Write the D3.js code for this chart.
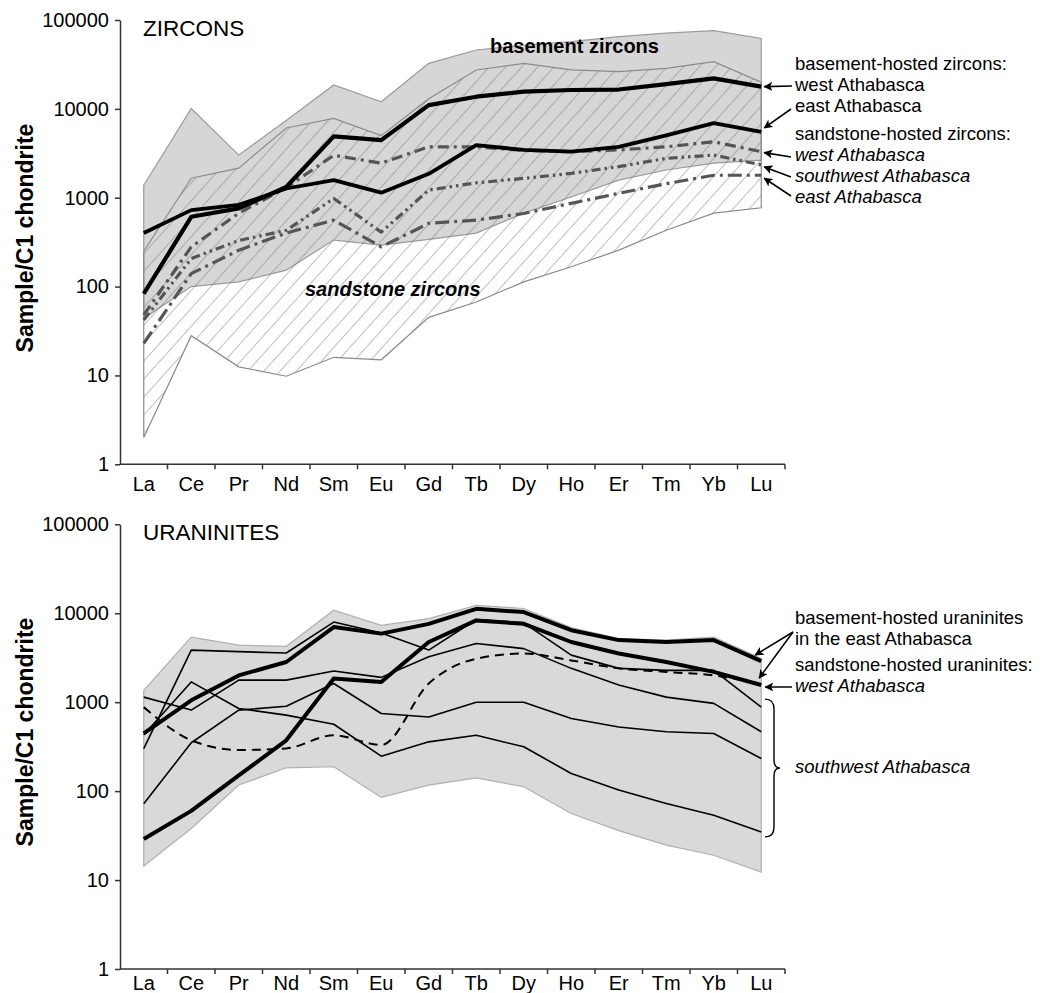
<!DOCTYPE html>
<html><head><meta charset="utf-8">
<script src="https://cdn.jsdelivr.net/npm/d3@7"></script>
<style>
body{margin:0;background:#fff}
text{font-family:"Liberation Sans",Arial,Helvetica,sans-serif;fill:#000}
</style>
</head><body>
<svg id="c" width="1059" height="993"></svg>
<script>
// ---------- categories / ticks ----------
const elements = ["La","Ce","Pr","Nd","Sm","Eu","Gd","Tb","Dy","Ho","Er","Tm","Yb","Lu"];
const yTickValues = [1,10,100,1000,10000,100000];

// ---------- ZIRCONS (top panel) ----------
const basementEnvUpper = [1380,10100,3020,7400,18600,12000,32500,46000,52000,57000,65000,71000,76000,62000];
const basementEnvLower = [44,100,113,153,334,293,340,400,670,1020,1580,2050,2450,2650];
const sandstoneEnvUpper = [250,1660,2150,6100,7800,5000,13000,27400,32500,27400,26300,28600,34000,20000];
const sandstoneEnvLower = [2,28,12.5,9.8,16,15,45,67,113,167,257,430,670,770];
const zrBasementWest = [83,610,760,1320,4900,4450,11000,13700,15600,16300,16500,19000,22000,17800];
const zrBasementEast = [400,725,830,1270,1580,1140,1860,3900,3460,3300,3730,5040,6900,5500];
const zrSandWest = [48,280,670,1300,3000,2450,3740,3740,3400,3300,3450,3740,4260,3300];
const zrSandSouthwest = [42,207,330,430,980,410,1220,1470,1650,1880,2240,2770,3020,2340];
const zrSandEast = [23,140,256,400,560,280,515,560,665,865,1120,1440,1790,1790];

// ---------- URANINITES (bottom panel) ----------
const uranEnvUpper = [1360,5400,4370,4250,10800,7300,8700,12300,11300,6900,5200,5000,5400,3100];
const uranEnvLower = [14.4,38,117,183,188,85,117,141,112,56,36,24.7,19,12.3];
const urBasementA = [445,1050,2000,2830,7000,5900,7600,11200,10300,6450,4990,4750,4990,2900];
const urBasementB = [29,60,150,373,1850,1690,4750,8300,7600,4750,3530,2830,2190,1560];
const urSandWest = [880,373,290,302,425,330,1620,3080,3530,2950,2400,2190,2000,1600];
const urSouthwest1 = [300,3850,3700,3570,7960,6000,3850,8500,7800,3380,2400,2280,2280,880];
const urSouthwest2 = [1140,815,1770,1770,2240,1900,3240,4570,4000,2400,1560,1140,970,465];
const urSouthwest3 = [430,1690,850,715,565,247,358,425,315,158,103,72.5,53.6,34.8];
const urSouthwest4 = [72,350,815,900,1620,745,680,1000,1000,655,525,465,445,233];

// ---------- drawing ----------
const svg = d3.select("#c");
const defs = svg.append("defs");
const hatch = defs.append("pattern").attr("id","hatch")
  .attr("patternUnits","userSpaceOnUse").attr("width",12).attr("height",12)
  .attr("patternTransform","rotate(42)");
hatch.append("line").attr("x1",0).attr("y1",0).attr("x2",0).attr("y2",12)
  .attr("stroke","#707070").attr("stroke-width",0.9);
defs.append("marker").attr("id","arr").attr("viewBox","0 0 10 10")
  .attr("refX",9).attr("refY",5).attr("markerWidth",9).attr("markerHeight",9)
  .attr("markerUnits","userSpaceOnUse").attr("orient","auto")
  .append("path").attr("d","M0,0 L10,5 L0,10 L2.5,5 Z").attr("fill","#000");

const x = d3.scaleBand().domain(elements).range([120,785]);
const cx = d => x(d) + x.bandwidth()/2;

function makePanel(y0, y1){
  const y = d3.scaleLog().domain([1,100000]).range([y0,y1]);
  const g = svg.append("g");
  return {y, g};
}

function drawAxes(p, titleText, titleY, yLabelCenter, catBaseline){
  const {y,g} = p;
  const ax = g.append("g").attr("transform","translate(120,0)")
    .call(d3.axisLeft(y).tickValues(yTickValues).tickFormat(d3.format("d")).tickSize(5).tickSizeOuter(0).tickPadding(6));
  ax.select(".domain").attr("stroke","#333").attr("stroke-width",1.5);
  ax.selectAll(".tick line").attr("stroke","#333").attr("stroke-width",1.5);
  ax.selectAll(".tick text").attr("font-size",20).attr("font-family","'Liberation Sans',Arial,sans-serif").attr("fill","#000");
  const yb = y.range()[0];
  g.append("line").attr("x1",120).attr("x2",785).attr("y1",yb).attr("y2",yb)
    .attr("stroke","#333").attr("stroke-width",1.5);
  const bounds = elements.slice(1).map(e => x(e)).concat([x.range()[1]]);
  g.selectAll(".xt").data(bounds).enter().append("line")
    .attr("x1",d=>d).attr("x2",d=>d).attr("y1",yb).attr("y2",yb+5)
    .attr("stroke","#333").attr("stroke-width",1.5);
  g.selectAll(".xl").data(elements).enter().append("text")
    .attr("x",d=>cx(d)).attr("y",catBaseline).attr("text-anchor","middle")
    .attr("font-size",20).text(d=>d);
  g.append("text").attr("x",143).attr("y",titleY).attr("font-size",22.5).text(titleText);
  g.append("text").attr("transform",`translate(33,${yLabelCenter}) rotate(-90)`)
    .attr("text-anchor","middle").attr("font-size",23).attr("font-weight","bold")
    .text("Sample/C1 chondrite");
}

function band(p, upper, lower){
  const {y} = p;
  return d3.area().x((d,i)=>cx(elements[i])).y0((d,i)=>y(lower[i])).y1(d=>y(d))(upper);
}
function lineOf(p, vals, curve){
  const {y} = p;
  return d3.line().x((d,i)=>cx(elements[i])).y(d=>y(d)).curve(curve||d3.curveLinear)(vals);
}
const last = arr => arr[arr.length-1];
const lastX = cx("Lu");
const annSize = 18.5;

// ===== TOP =====
const topP = makePanel(464.3, 20);
topP.g.append("path").attr("d",band(topP,basementEnvUpper,basementEnvLower))
  .attr("fill","#d6d6d6").attr("stroke","#9a9a9a").attr("stroke-width",1.2);
topP.g.append("path").attr("d",band(topP,sandstoneEnvUpper,sandstoneEnvLower))
  .attr("fill","url(#hatch)").attr("stroke","#8a8a8a").attr("stroke-width",1.2);

const zrLines = [
  {v:zrSandEast, c:"#555", w:3.2, dash:"14,5,3,5"},
  {v:zrSandSouthwest, c:"#555", w:3.2, dash:"9,4,2.5,4,2.5,4"},
  {v:zrSandWest, c:"#555", w:3.2, dash:"11,5,3,5"},
  {v:zrBasementEast, c:"#000", w:3.8, dash:null},
  {v:zrBasementWest, c:"#000", w:4.2, dash:null}
];
zrLines.forEach(s=>{
  topP.g.append("path").attr("d",lineOf(topP,s.v)).attr("fill","none")
    .attr("stroke",s.c).attr("stroke-width",s.w).attr("stroke-linejoin","round")
    .attr("stroke-dasharray",s.dash);
});
topP.g.append("text").attr("x",490).attr("y",53).attr("font-size",20).attr("font-weight","bold").text("basement zircons");
topP.g.append("text").attr("x",305).attr("y",296).attr("font-size",20).attr("font-weight","bold").attr("font-style","italic").text("sandstone zircons");
drawAxes(topP,"ZIRCONS",36,238,491);

const tAnn = [
  {t:"basement-hosted zircons:", y:70, it:false},
  {t:"west Athabasca", y:91, it:false},
  {t:"east Athabasca", y:112, it:false},
  {t:"sandstone-hosted zircons:", y:140, it:false},
  {t:"west Athabasca", y:161, it:true},
  {t:"southwest Athabasca", y:182, it:true},
  {t:"east Athabasca", y:203, it:true}
];
tAnn.forEach(a=>topP.g.append("text").attr("x",795).attr("y",a.y).attr("font-size",annSize)
  .attr("font-style",a.it?"italic":"normal").text(a.t));
const tArrows = [
  {from:[792,86], val:last(zrBasementWest), dy:0},
  {from:[791,109], val:last(zrBasementEast), dy:-4},
  {from:[791,157], val:last(zrSandWest), dy:1},
  {from:[791,177], val:last(zrSandSouthwest), dy:2},
  {from:[791,196], val:last(zrSandEast), dy:3}
];
tArrows.forEach(a=>topP.g.append("line").attr("x1",a.from[0]).attr("y1",a.from[1])
  .attr("x2",lastX+3).attr("y2",topP.y(a.val)+a.dy).attr("stroke","#000").attr("stroke-width",1.6)
  .attr("marker-end","url(#arr)"));

// ===== BOTTOM =====
const botP = makePanel(969, 524.3);
botP.g.append("path").attr("d",band(botP,uranEnvUpper,uranEnvLower))
  .attr("fill","#d9d9d9").attr("stroke","#b0b0b0").attr("stroke-width",1.2);
[urSouthwest1,urSouthwest2,urSouthwest3,urSouthwest4].forEach(v=>{
  botP.g.append("path").attr("d",lineOf(botP,v)).attr("fill","none")
    .attr("stroke","#000").attr("stroke-width",1.6).attr("stroke-linejoin","round");
});
botP.g.append("path").attr("d",lineOf(botP,urSandWest,d3.curveMonotoneX)).attr("fill","none")
  .attr("stroke","#000").attr("stroke-width",2).attr("stroke-dasharray","9,6");
[urBasementA,urBasementB].forEach(v=>{
  botP.g.append("path").attr("d",lineOf(botP,v)).attr("fill","none")
    .attr("stroke","#000").attr("stroke-width",4).attr("stroke-linejoin","round");
});
drawAxes(botP,"URANINITES",540,732,990);

const bAnn = [
  {t:"basement-hosted uraninites", y:624, it:false},
  {t:"in the east Athabasca", y:645, it:false},
  {t:"sandstone-hosted uraninites:", y:671, it:false},
  {t:"west Athabasca", y:692, it:true},
  {t:"southwest Athabasca", y:773, it:true}
];
bAnn.forEach(a=>botP.g.append("text").attr("x",795).attr("y",a.y).attr("font-size",annSize)
  .attr("font-style",a.it?"italic":"normal").text(a.t));
const bArrows = [
  {from:[793,632], val:last(urBasementA), dy:-6, dx:-6},
  {from:[793,632], val:last(urBasementB), dy:-7, dx:-2},
  {from:[792,687], val:last(urSandWest), dy:3, dx:4}
];
bArrows.forEach(a=>botP.g.append("line").attr("x1",a.from[0]).attr("y1",a.from[1])
  .attr("x2",lastX+a.dx).attr("y2",botP.y(a.val)+a.dy).attr("stroke","#000").attr("stroke-width",1.6)
  .attr("marker-end","url(#arr)"));
const swSet = [urSouthwest1,urSouthwest2,urSouthwest3,urSouthwest4];
const bTop = botP.y(d3.max(swSet, last)) - 8;
const bBot = botP.y(d3.min(swSet, last)) + 5;
const bMid = (bTop+bBot)/2, bx = 765;
botP.g.append("path")
  .attr("d",`M${bx},${bTop} Q${bx+9},${bTop} ${bx+9},${bTop+10} L${bx+9},${bMid-8} Q${bx+9},${bMid} ${bx+15},${bMid} Q${bx+9},${bMid} ${bx+9},${bMid+8} L${bx+9},${bBot-10} Q${bx+9},${bBot} ${bx},${bBot}`)
  .attr("fill","none").attr("stroke","#000").attr("stroke-width",1.4);
</script>
</body></html>
